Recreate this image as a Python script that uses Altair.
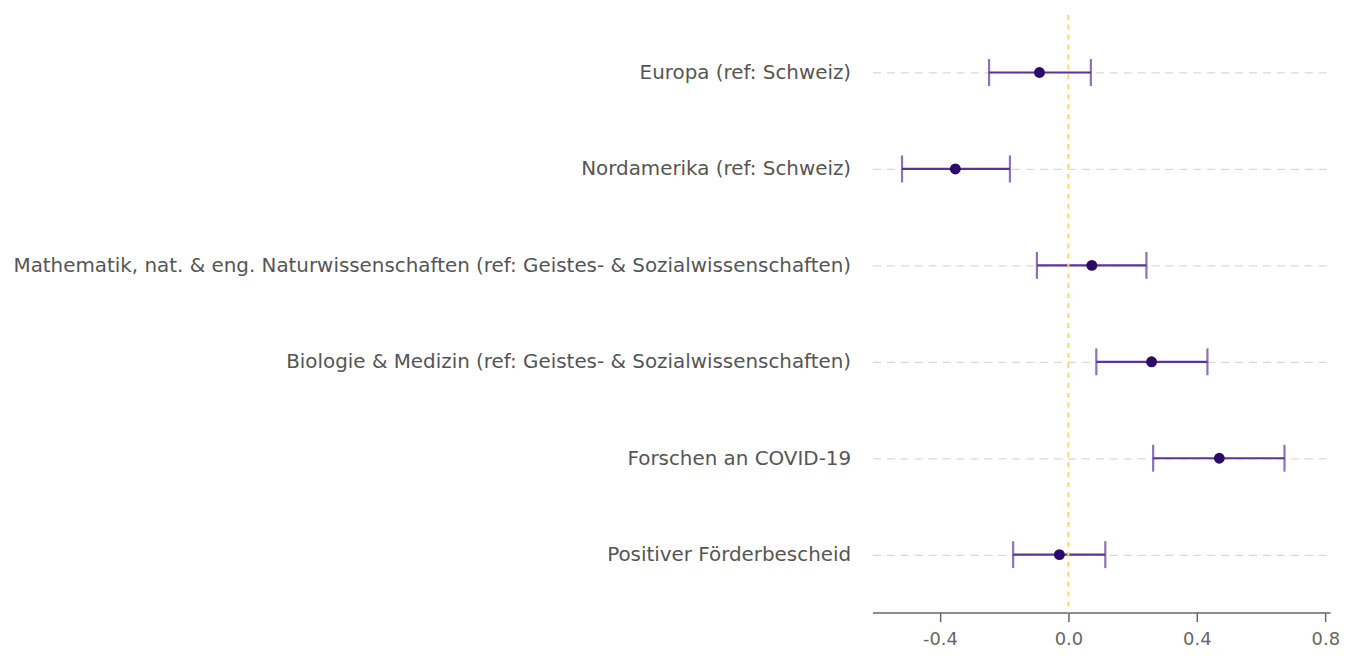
import altair as alt
import pandas as pd

labels = [
    "Europa (ref: Schweiz)",
    "Nordamerika (ref: Schweiz)",
    "Mathematik, nat. & eng. Naturwissenschaften (ref: Geistes- & Sozialwissenschaften)",
    "Biologie & Medizin (ref: Geistes- & Sozialwissenschaften)",
    "Forschen an COVID-19",
    "Positiver Förderbescheid",
]
estimate = [-0.090, -0.352, 0.073, 0.259, 0.470, -0.028]
ci_low = [-0.247, -0.518, -0.098, 0.087, 0.264, -0.172]
ci_high = [0.070, -0.182, 0.243, 0.433, 0.673, 0.115]
x_ticks = [-0.4, 0.0, 0.4, 0.8]

df = pd.DataFrame({"label": labels, "est": estimate, "lo": ci_low, "hi": ci_high})
zero = pd.DataFrame({"z": [0.0]})

FONT = "DejaVu Sans"
xscale = alt.Scale(domain=[-0.61, 0.815], nice=False, zero=False)
yscale = alt.Scale(type="point", padding=0.6, domain=labels)

yenc = alt.Y(
    "label:N",
    scale=yscale,
    sort=labels,
    title=None,
    axis=alt.Axis(
        domain=False,
        ticks=False,
        grid=True,
        gridDash=[8, 6],
        gridColor="#d9d9d9",
        gridWidth=1.3,
        labelFont=FONT,
        labelFontSize=20,
        labelColor="#555555",
        labelPadding=22,
        labelLimit=900,
        minExtent=865,
        maxExtent=865,
    ),
)

xenc = alt.X(
    "lo:Q",
    scale=xscale,
    title=None,
    axis=alt.Axis(
        values=x_ticks,
        labelExpr="replace(format(datum.value, '.1f'), '\u2212', '-')",
        grid=False,
        domainColor="#666666",
        domainWidth=1.5,
        tickColor="#666666",
        tickWidth=1.5,
        tickSize=9,
        labelFont=FONT,
        labelFontSize=18,
        labelColor="#666666",
        labelPadding=9,
    ),
)

base = alt.Chart(df)

rule = base.mark_rule(color="#5a3596", strokeWidth=2.2).encode(
    x=xenc, x2="hi:Q", y=yenc
)
cap_lo = base.mark_tick(color="#5a3596", thickness=2.2, size=27).encode(
    x=alt.X("lo:Q", scale=xscale), y=alt.Y("label:N", scale=yscale, sort=labels)
)
cap_hi = base.mark_tick(color="#5a3596", thickness=2.2, size=27).encode(
    x=alt.X("hi:Q", scale=xscale), y=alt.Y("label:N", scale=yscale, sort=labels)
)
pts = base.mark_circle(color="#2b0a6b", size=120, opacity=1).encode(
    x=alt.X("est:Q", scale=xscale), y=alt.Y("label:N", scale=yscale, sort=labels)
)
zline = alt.Chart(zero).mark_rule(
    color="#f7d774", strokeWidth=2, strokeDash=[5, 5]
).encode(x=alt.X("z:Q", scale=xscale))

chart = (
    alt.layer(rule, zline, cap_lo, cap_hi, pts)
    .properties(
        width=460,
        height=601,
        padding={"left": 4, "top": 4, "right": 10, "bottom": 5},
        background="white",
    )
    .configure_view(stroke=None)
)

chart.save("out.html", embed_options={"renderer": "svg", "actions": False})
